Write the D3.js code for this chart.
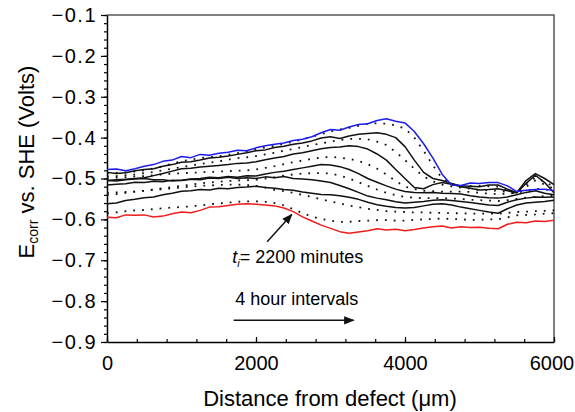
<!DOCTYPE html>
<html>
<head>
<meta charset="utf-8">
<script src="https://cdn.jsdelivr.net/npm/d3@7"></script>
<style>
  body { margin: 0; background: #fff; }
  svg { font-family: "Liberation Sans", Arial, sans-serif; }
</style>
</head>
<body>
<div id="chart"></div>
<script>
// distance from defect (um) for every scan point
const DISTANCE = [0, 125, 250, 375, 500, 625, 750, 875, 1000, 1125, 1250, 1375, 1500, 1625, 1750, 1875,
                  2000, 2125, 2250, 2375, 2500, 2625, 2750, 2875, 3000, 3125, 3250, 3375, 3500, 3625, 3750, 3875,
                  4000, 4125, 4250, 4375, 4500, 4625, 4750, 4875, 5000, 5125, 5250, 5375, 5500, 5625, 5750, 5875, 6000];

// scans every 4 hours, first one at t = 2200 minutes (red), last one blue
const SCAN_00 = [-0.595,-0.596,-0.589,-0.590,-0.589,-0.594,-0.592,-0.586,-0.582,-0.584,-0.578,-0.570,-0.569,-0.566,-0.563,-0.562,
                 -0.563,-0.565,-0.567,-0.572,-0.581,-0.594,-0.604,-0.614,-0.622,-0.630,-0.634,-0.631,-0.628,-0.623,-0.626,-0.624,
                 -0.628,-0.625,-0.621,-0.618,-0.616,-0.621,-0.618,-0.620,-0.619,-0.622,-0.623,-0.612,-0.607,-0.608,-0.604,-0.605,-0.602];
const SCAN_01 = [-0.585,-0.583,-0.580,-0.578,-0.577,-0.575,-0.573,-0.571,-0.570,-0.568,-0.566,-0.563,-0.561,-0.559,-0.557,-0.556,
                 -0.556,-0.557,-0.560,-0.566,-0.575,-0.585,-0.593,-0.599,-0.603,-0.606,-0.606,-0.604,-0.603,-0.602,-0.602,-0.603,
                 -0.603,-0.601,-0.600,-0.599,-0.598,-0.599,-0.600,-0.601,-0.601,-0.600,-0.600,-0.595,-0.590,-0.589,-0.588,-0.586,-0.585];
const SCAN_02 = [-0.562,-0.560,-0.554,-0.551,-0.547,-0.545,-0.540,-0.536,-0.531,-0.530,-0.527,-0.528,-0.524,-0.525,-0.522,-0.521,
                 -0.519,-0.522,-0.524,-0.527,-0.529,-0.533,-0.536,-0.539,-0.540,-0.542,-0.546,-0.551,-0.558,-0.564,-0.568,-0.571,
                 -0.572,-0.571,-0.567,-0.563,-0.562,-0.565,-0.570,-0.574,-0.578,-0.582,-0.585,-0.574,-0.565,-0.560,-0.558,-0.556,-0.553];
const SCAN_03 = [-0.540,-0.538,-0.535,-0.532,-0.530,-0.528,-0.526,-0.524,-0.522,-0.520,-0.518,-0.517,-0.516,-0.515,-0.515,-0.516,
                 -0.518,-0.522,-0.528,-0.531,-0.535,-0.540,-0.545,-0.551,-0.556,-0.561,-0.566,-0.570,-0.574,-0.577,-0.580,-0.581,
                 -0.582,-0.583,-0.583,-0.584,-0.584,-0.585,-0.585,-0.586,-0.586,-0.586,-0.586,-0.584,-0.582,-0.581,-0.580,-0.579,-0.578];
const SCAN_04 = [-0.516,-0.514,-0.513,-0.509,-0.510,-0.507,-0.508,-0.504,-0.505,-0.502,-0.503,-0.499,-0.500,-0.497,-0.500,-0.498,
                 -0.500,-0.496,-0.498,-0.495,-0.500,-0.501,-0.503,-0.506,-0.510,-0.517,-0.525,-0.534,-0.543,-0.548,-0.552,-0.557,
                 -0.560,-0.558,-0.556,-0.553,-0.552,-0.554,-0.556,-0.559,-0.562,-0.565,-0.566,-0.558,-0.552,-0.548,-0.545,-0.546,-0.545];
const SCAN_05 = [-0.535,-0.534,-0.533,-0.532,-0.530,-0.527,-0.524,-0.521,-0.518,-0.515,-0.512,-0.510,-0.508,-0.506,-0.505,-0.504,
                 -0.503,-0.500,-0.497,-0.493,-0.490,-0.488,-0.487,-0.487,-0.488,-0.493,-0.500,-0.509,-0.518,-0.527,-0.535,-0.541,
                 -0.545,-0.547,-0.548,-0.548,-0.548,-0.549,-0.550,-0.552,-0.553,-0.554,-0.555,-0.553,-0.550,-0.547,-0.545,-0.543,-0.542];
const SCAN_06 = [-0.505,-0.506,-0.503,-0.501,-0.500,-0.503,-0.503,-0.506,-0.504,-0.501,-0.500,-0.497,-0.498,-0.495,-0.497,-0.493,
                 -0.494,-0.489,-0.485,-0.482,-0.478,-0.474,-0.470,-0.466,-0.467,-0.471,-0.478,-0.488,-0.500,-0.509,-0.518,-0.526,
                 -0.532,-0.534,-0.535,-0.534,-0.536,-0.537,-0.538,-0.542,-0.545,-0.547,-0.548,-0.545,-0.540,-0.534,-0.530,-0.536,-0.540];
const SCAN_07 = [-0.500,-0.498,-0.497,-0.495,-0.494,-0.492,-0.490,-0.488,-0.487,-0.486,-0.485,-0.484,-0.483,-0.482,-0.481,-0.480,
                 -0.478,-0.474,-0.470,-0.465,-0.460,-0.456,-0.452,-0.449,-0.447,-0.449,-0.452,-0.457,-0.465,-0.476,-0.490,-0.506,
                 -0.520,-0.526,-0.530,-0.531,-0.532,-0.532,-0.532,-0.533,-0.535,-0.537,-0.538,-0.537,-0.535,-0.530,-0.525,-0.527,-0.530];
const SCAN_08 = [-0.505,-0.503,-0.502,-0.500,-0.498,-0.493,-0.488,-0.482,-0.476,-0.475,-0.472,-0.470,-0.468,-0.466,-0.463,-0.462,
                 -0.459,-0.454,-0.450,-0.446,-0.440,-0.437,-0.432,-0.427,-0.424,-0.423,-0.420,-0.422,-0.428,-0.440,-0.455,-0.478,
                 -0.500,-0.522,-0.525,-0.515,-0.510,-0.514,-0.520,-0.524,-0.528,-0.527,-0.525,-0.530,-0.535,-0.512,-0.492,-0.510,-0.535];
const SCAN_09 = [-0.495,-0.494,-0.492,-0.490,-0.487,-0.484,-0.480,-0.476,-0.472,-0.468,-0.465,-0.461,-0.458,-0.454,-0.450,-0.448,
                 -0.445,-0.441,-0.437,-0.432,-0.428,-0.423,-0.418,-0.414,-0.410,-0.406,-0.403,-0.403,-0.404,-0.410,-0.418,-0.435,
                 -0.455,-0.476,-0.495,-0.507,-0.515,-0.519,-0.522,-0.525,-0.528,-0.529,-0.530,-0.533,-0.536,-0.520,-0.505,-0.515,-0.525];
const SCAN_10 = [-0.485,-0.488,-0.486,-0.481,-0.478,-0.476,-0.470,-0.466,-0.460,-0.459,-0.455,-0.450,-0.448,-0.445,-0.441,-0.437,
                 -0.432,-0.430,-0.424,-0.421,-0.416,-0.413,-0.408,-0.401,-0.398,-0.402,-0.396,-0.392,-0.390,-0.388,-0.392,-0.400,
                 -0.422,-0.455,-0.485,-0.500,-0.505,-0.512,-0.518,-0.519,-0.520,-0.516,-0.516,-0.526,-0.535,-0.505,-0.488,-0.500,-0.515];
const SCAN_11 = [-0.487,-0.486,-0.485,-0.483,-0.480,-0.475,-0.470,-0.464,-0.458,-0.454,-0.450,-0.448,-0.446,-0.442,-0.438,-0.433,
                 -0.428,-0.424,-0.420,-0.415,-0.410,-0.404,-0.398,-0.391,-0.385,-0.380,-0.376,-0.371,-0.366,-0.365,-0.366,-0.370,
                 -0.378,-0.400,-0.432,-0.468,-0.500,-0.514,-0.520,-0.519,-0.518,-0.519,-0.520,-0.529,-0.538,-0.515,-0.498,-0.508,-0.520];
const SCAN_12 = [-0.478,-0.477,-0.481,-0.476,-0.470,-0.466,-0.458,-0.455,-0.446,-0.449,-0.441,-0.443,-0.438,-0.436,-0.431,-0.432,
                 -0.425,-0.420,-0.416,-0.413,-0.407,-0.404,-0.398,-0.388,-0.380,-0.382,-0.374,-0.368,-0.366,-0.358,-0.354,-0.360,
                 -0.364,-0.385,-0.415,-0.450,-0.490,-0.516,-0.517,-0.511,-0.512,-0.510,-0.510,-0.518,-0.532,-0.529,-0.527,-0.526,-0.530];

// tick values of the axes
const X_TICKS = [0, 2000, 4000, 6000];
const Y_TICKS = [-0.9, -0.8, -0.7, -0.6, -0.5, -0.4, -0.3, -0.2, -0.1];

// frame of the picture and margins round the plot
const FRAME_WIDTH = 575;
const FRAME_HEIGHT = 412;
const MARGINS = {left: 107, right: 21, top: 15, bottom: 70};
const VIS_WIDTH = FRAME_WIDTH - MARGINS.left - MARGINS.right;
const VIS_HEIGHT = FRAME_HEIGHT - MARGINS.top - MARGINS.bottom;

const SVG = d3.select("#chart")
              .append("svg")
                .attr("width", FRAME_WIDTH)
                .attr("height", FRAME_HEIGHT);

const PLOT = SVG.append("g")
                .attr("transform", "translate(" + MARGINS.left + "," + MARGINS.top + ")");

const X_SCALE = d3.scaleLinear().domain([0, 6000]).range([0, VIS_WIDTH]);
const Y_SCALE = d3.scaleLinear().domain([-0.9, -0.1]).range([VIS_HEIGHT, 0]);

// top and right border of the box
PLOT.append("path")
    .attr("d", "M0,0H" + VIS_WIDTH + "V" + VIS_HEIGHT)
    .attr("fill", "none")
    .attr("stroke", "#555")
    .attr("stroke-width", 1.5);

// minor ticks first, then the labelled axes over them
PLOT.append("g")
    .attr("transform", "translate(0," + VIS_HEIGHT + ")")
    .call(d3.axisBottom(X_SCALE).tickValues(d3.range(0, 6001, 400)).tickSize(-3).tickFormat(""))
    .call(g => g.select(".domain").remove());

PLOT.append("g")
    .call(d3.axisLeft(Y_SCALE).tickValues(d3.range(-90, -9, 2).map(d => d / 100)).tickSize(3).tickFormat(""))
    .call(g => g.select(".domain").remove());

const X_AXIS = PLOT.append("g")
    .attr("transform", "translate(0," + VIS_HEIGHT + ")")
    .call(d3.axisBottom(X_SCALE).tickValues(X_TICKS).tickSize(-5).tickPadding(14).tickSizeOuter(0)
            .tickFormat(d3.format("d")))
    .attr("font-size", "20px")
    .attr("font-family", null);

// the last label sits right on the window edge, pull it in a little
X_AXIS.selectAll("text").filter(d => d == 6000).attr("dx", -2.5);

const Y_AXIS = PLOT.append("g")
    .call(d3.axisLeft(Y_SCALE).tickValues(Y_TICKS).tickSize(6).tickPadding(4).tickSizeOuter(0)
            .tickFormat(d => "\u2212" + Math.abs(d).toFixed(1)))
    .attr("font-size", "20px")
    .attr("font-family", null);

Y_AXIS.selectAll("text").attr("letter-spacing", "1.5px");

SVG.selectAll(".domain").attr("stroke-width", 1.5);
SVG.selectAll(".tick line").attr("stroke-width", 1.2);

// the scans, alternating solid and dotted between the red and blue ones
const SCANS = [SCAN_00, SCAN_01, SCAN_02, SCAN_03, SCAN_04, SCAN_05, SCAN_06,
               SCAN_07, SCAN_08, SCAN_09, SCAN_10, SCAN_11, SCAN_12];

const LINE = d3.line()
               .x((d, i) => X_SCALE(DISTANCE[i]))
               .y(d => Y_SCALE(d));

function isDotted(i) {
  return i > 0 && i < SCANS.length - 1 && i % 2 == 1;
}

PLOT.selectAll(".scan")
    .data(SCANS)
    .enter()
    .append("path")
      .attr("class", "scan")
      .attr("d", d => LINE(d))
      .attr("fill", "none")
      .attr("stroke", (d, i) => i == 0 ? "#ee1c1c" : (i == SCANS.length - 1 ? "#1c1cee" : "#111"))
      .attr("stroke-width", (d, i) => isDotted(i) ? 1.8 : 1.5)
      .attr("stroke-dasharray", (d, i) => isDotted(i) ? "1.8,7" : null)
      .attr("stroke-linejoin", "round");

// arrow heads
SVG.append("defs").append("marker")
    .attr("id", "head")
    .attr("viewBox", "0 0 10 10")
    .attr("refX", 9).attr("refY", 5)
    .attr("markerWidth", 7).attr("markerHeight", 7)
    .attr("orient", "auto")
  .append("path")
    .attr("d", "M0,1L10,5L0,9Z")
    .attr("fill", "#111");

// annotation: first scan time
PLOT.append("line")
    .attr("x1", X_SCALE(2150)).attr("y1", Y_SCALE(-0.655))
    .attr("x2", X_SCALE(2480)).attr("y2", Y_SCALE(-0.588))
    .attr("stroke", "#111").attr("stroke-width", 1.5)
    .attr("marker-end", "url(#head)");

const T_LABEL = PLOT.append("text")
    .attr("x", X_SCALE(1680)).attr("y", Y_SCALE(-0.707))
    .attr("font-size", "18px");
T_LABEL.append("tspan").attr("font-style", "italic").text("t");
T_LABEL.append("tspan").attr("font-style", "italic").attr("font-size", "11px").attr("dy", 4).text("i");
T_LABEL.append("tspan").attr("dy", -4).text("= 2200 minutes");

// annotation: time step between scans
PLOT.append("text")
    .attr("x", X_SCALE(1720)).attr("y", Y_SCALE(-0.81))
    .attr("font-size", "18px")
    .text("4 hour intervals");

PLOT.append("line")
    .attr("x1", X_SCALE(1700)).attr("y1", Y_SCALE(-0.847))
    .attr("x2", X_SCALE(3310)).attr("y2", Y_SCALE(-0.847))
    .attr("stroke", "#111").attr("stroke-width", 1.5)
    .attr("marker-end", "url(#head)");

// axis titles
SVG.append("text")
    .attr("x", 330)
    .attr("y", 406)
    .attr("text-anchor", "middle")
    .attr("font-size", "22px")
    .text("Distance from defect (\u03bcm)");

const Y_TITLE = SVG.append("text")
    .attr("transform", "translate(34,162) rotate(-90)")
    .attr("text-anchor", "middle")
    .attr("font-size", "22px");
Y_TITLE.append("tspan").text("E");
Y_TITLE.append("tspan").attr("font-size", "14px").attr("dy", 4).text("corr");
Y_TITLE.append("tspan").attr("dy", -4).text(" vs. SHE (Volts)");
</script>
</body>
</html>
